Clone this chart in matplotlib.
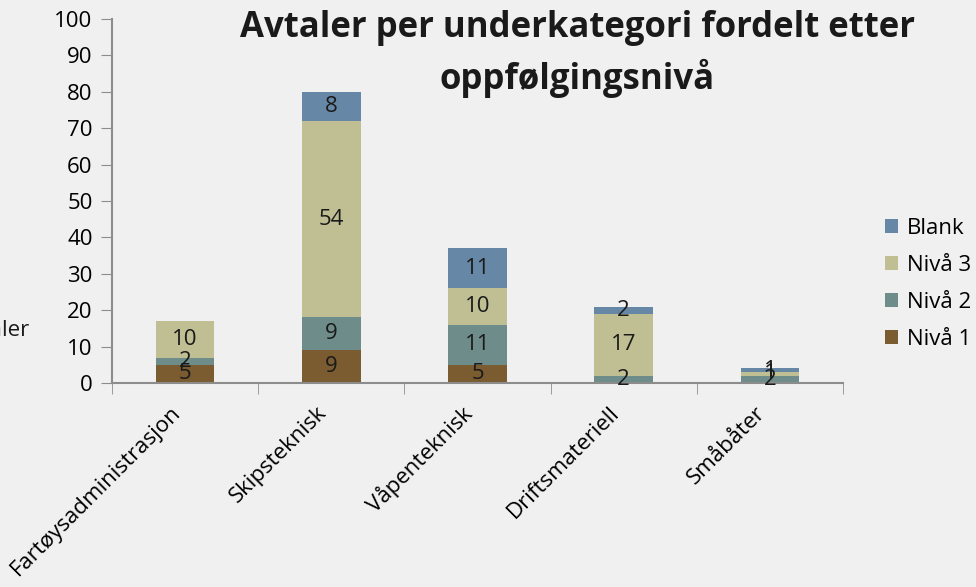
import numpy as np
import matplotlib.pyplot as plt
import matplotlib.transforms as mtransforms

plt.rcParams['font.family'] = ['Open Sans', 'DejaVu Sans']

kategorier = ['Fartøysadministrasjon', 'Skipsteknisk', 'Våpenteknisk',
              'Driftsmateriell', 'Småbåter']
serier = ['Nivå 1', 'Nivå 2', 'Nivå 3', 'Blank']
niva1 = [5, 9, 5, 0, 0]
niva2 = [2, 9, 11, 2, 2]
niva3 = [10, 54, 10, 17, 1]
blank = [0, 8, 11, 2, 1]
verdier = [niva1, niva2, niva3, blank]
farger = ['#7a5c30', '#6e8c89', '#c0bf94', '#6787a6']

fig = plt.figure(figsize=(9.76, 5.87), dpi=100, facecolor='#f0f0f0')
ax = fig.add_axes([112/976, 1-383/587, (843-112)/976, (383-19)/587])
ax.set_facecolor('#f0f0f0')

x = np.arange(len(kategorier))
bunn = np.zeros(len(kategorier))
for navn, v, f in zip(serier, verdier, farger):
    v = np.array(v)
    bars = ax.bar(x, v, 0.4, bottom=bunn, color=f, label=navn)
    for i, b in enumerate(bars):
        if v[i] > 0:
            ax.text(b.get_x() + b.get_width()/2, bunn[i] + v[i]/2, str(v[i]),
                    ha='center', va='center', fontsize=16, color='#1a1a1a')
    bunn += v

ax.set_xlim(-0.5, len(kategorier) - 0.5)
ax.set_ylim(0, 100)
ax.set_yticks(range(0, 101, 10))
ax.set_xticks(x)
ax.set_xticklabels(kategorier, rotation=45, ha='right', va='top', fontsize=16)
flytt = mtransforms.ScaledTranslation(10/100, 0, fig.dpi_scale_trans)
for lab in ax.get_xticklabels():
    lab.set_transform(lab.get_transform() + flytt)
ax.set_xticks(np.arange(-0.5, len(kategorier)), minor=True)
ax.tick_params(axis='x', which='major', length=0, pad=14)
ax.tick_params(axis='x', which='minor', length=8, color='#8c8c8c', direction='out')
ax.tick_params(axis='y', length=8, color='#8c8c8c', labelsize=16, pad=6)
for s in ['top', 'right']:
    ax.spines[s].set_visible(False)
for s in ['left', 'bottom']:
    ax.spines[s].set_color('#8c8c8c')
    ax.spines[s].set_linewidth(1.5)

fig.text(577/976, 1-54/587, 'Avtaler per underkategori fordelt etter\noppfølgingsnivå',
         ha='center', va='center', fontsize=25, fontweight='bold',
         color='#1a1a1a', linespacing=1.45)
fig.text(29/976, 1-330/587, 'Antall avtaler', ha='right', va='center',
         fontsize=16, color='#1a1a1a')

h, l = ax.get_legend_handles_labels()
fig.legend(h[::-1], l[::-1], loc='center left', bbox_to_anchor=(865/976, 1-284/587),
           frameon=False, fontsize=16, handlelength=0.6, handleheight=0.6,
           labelspacing=0.72, handletextpad=0.4)

fig.savefig('out.png', dpi=100, facecolor=fig.get_facecolor())
